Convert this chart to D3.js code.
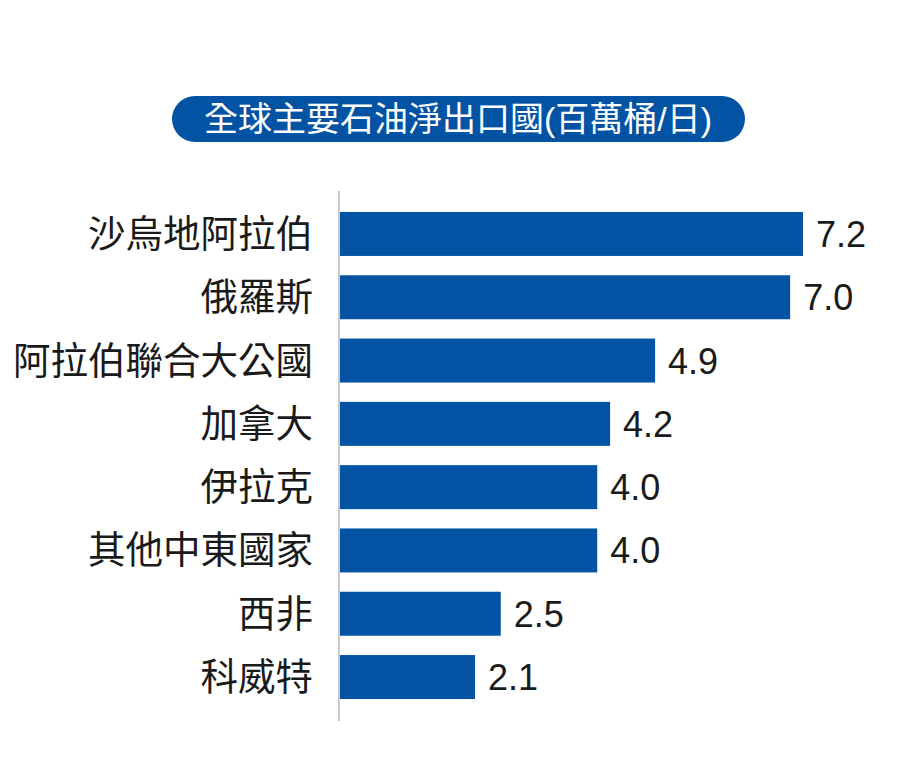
<!DOCTYPE html>
<html><head><meta charset="utf-8">
<script src="https://cdn.jsdelivr.net/npm/d3@7"></script>
<style>
html,body{margin:0;padding:0;background:#fff;}
text{font-family:"Liberation Sans","Noto Sans CJK TC",sans-serif;}
</style></head>
<body>
<svg id="chart" width="914" height="783"></svg>
<script>
const title = "全球主要石油淨出口國(百萬桶/日)";
const categories = ["沙烏地阿拉伯","俄羅斯","阿拉伯聯合大公國","加拿大","伊拉克","其他中東國家","西非","科威特"];
const values = [7.2, 7.0, 4.9, 4.2, 4.0, 4.0, 2.5, 2.1];
const valueLabels = ["7.2","7.0","4.9","4.2","4.0","4.0","2.5","2.1"];

const svg = d3.select("#chart");
const barColor = "#0353A4";

// Title pill
const pill = svg.append("g");
pill.append("rect").attr("x",172).attr("y",96).attr("width",573).attr("height",46)
  .attr("rx",23).attr("fill",barColor);
pill.append("text").attr("x",458).attr("y",131).attr("text-anchor","middle")
  .attr("fill","#fff").attr("font-size",34)
  .style("font-family","'Liberation Sans','Noto Sans CJK TC',sans-serif")
  .text(title);

const x = d3.scaleLinear().domain([0, 7.2]).range([340, 803]);
const y = d3.scaleBand().domain(categories).range([202.3, 708.7])
  .paddingInner(0.305).paddingOuter(0.1525);

// axis line
svg.append("line").attr("x1",339).attr("x2",339).attr("y1",191).attr("y2",721)
  .attr("stroke","#c8c8c8").attr("stroke-width",2);

const data = categories.map((c,i)=>({c, v:values[i], l:valueLabels[i]}));

svg.selectAll("rect.bar").data(data).enter().append("rect")
  .attr("class","bar")
  .attr("x", x(0)).attr("y", d=>y(d.c))
  .attr("width", d=>x(d.v)-x(0)).attr("height", y.bandwidth())
  .attr("fill", barColor);

svg.selectAll("text.cat").data(data).enter().append("text")
  .attr("class","cat")
  .attr("x",313).attr("y", d=>y(d.c)+y.bandwidth()/2+13)
  .attr("text-anchor","end").attr("font-size",37.5).attr("fill","#1a1a1a")
  .style("font-family","'Noto Sans CJK TC',sans-serif")
  .text(d=>d.c);

svg.selectAll("text.val").data(data).enter().append("text")
  .attr("class","val")
  .attr("x", d=>x(d.v)+13).attr("y", d=>y(d.c)+y.bandwidth()/2+13)
  .attr("font-size",36).attr("fill","#1a1a1a")
  .style("font-family","'Liberation Sans',Arial,sans-serif")
  .text(d=>d.l);
</script>
</body></html>
